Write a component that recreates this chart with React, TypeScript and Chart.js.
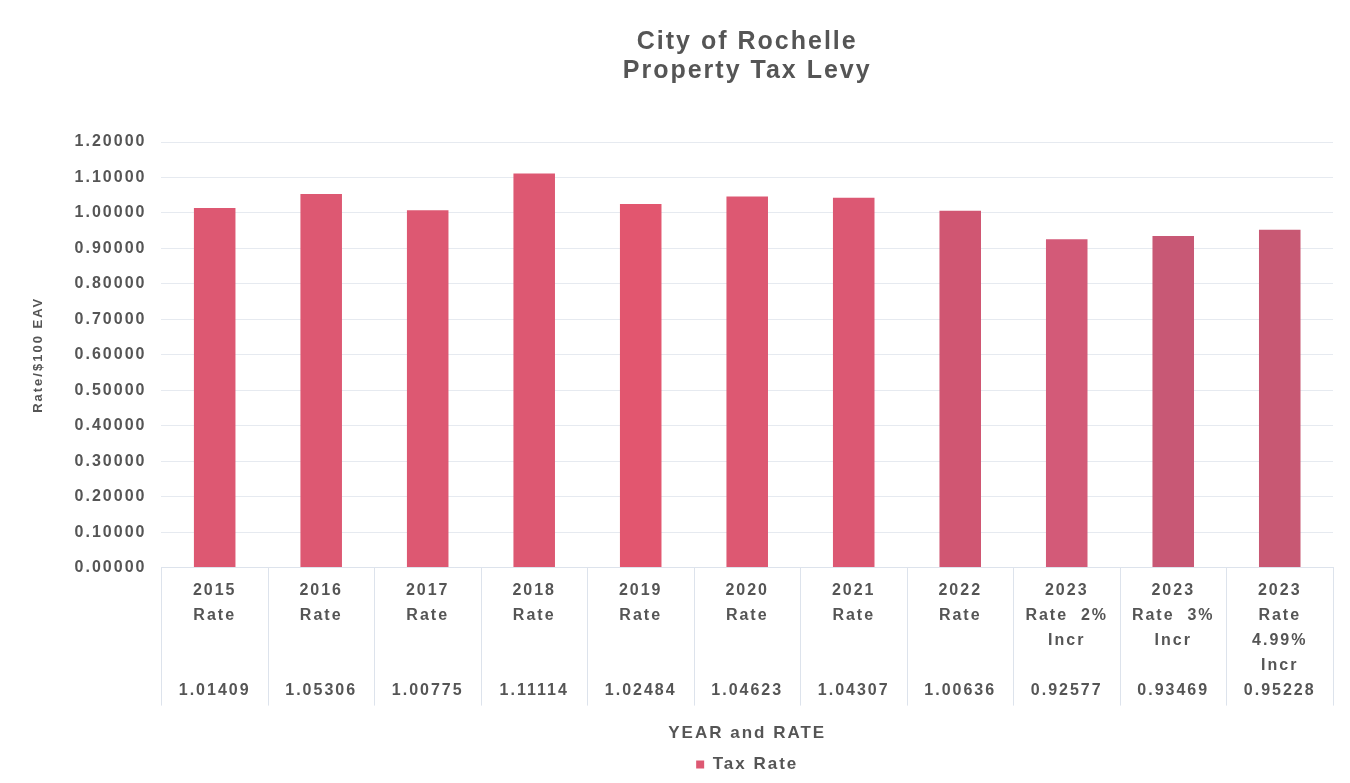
import React, { useEffect, useRef } from "react";
import { Chart, registerables } from "chart.js";

Chart.register(...registerables);

const years = ["2015", "2016", "2017", "2018", "2019", "2020", "2021", "2022", "2023", "2023", "2023"];
const rateLines = [
  ["Rate", ""],
  ["Rate", ""],
  ["Rate", ""],
  ["Rate", ""],
  ["Rate", ""],
  ["Rate", ""],
  ["Rate", ""],
  ["Rate", ""],
  ["Rate  2%", "Incr"],
  ["Rate  3%", "Incr"],
  ["Rate", "4.99%", "Incr"],
];
const taxRates = [1.01409, 1.05306, 1.00775, 1.11114, 1.02484, 1.04623, 1.04307, 1.00636, 0.92577, 0.93469, 0.95228];
const barColors = [
  "#DD5872", "#DD5872", "#DD5872", "#DD5872", "#E2566F", "#DD5872",
  "#DC5873", "#D05672", "#D35A78", "#C85875", "#C85873",
];
const yTicks = [0, 0.1, 0.2, 0.3, 0.4, 0.5, 0.6, 0.7, 0.8, 0.9, 1.0, 1.1, 1.2];

const spacingPlugin = {
  id: "spacing",
  beforeUpdate(chart: any) {
    chart.ctx.letterSpacing = "2px";
  },
  beforeDraw(chart: any) {
    chart.ctx.letterSpacing = "2px";
  },
};

const tablePlugin = {
  id: "table",
  afterDraw(chart: any) {
    const xs = chart.scales.x;
    const ctx = chart.ctx;
    const n = taxRates.length;
    const w = (xs.right - xs.left) / n;
    ctx.save();
    ctx.strokeStyle = "#dde3ec";
    ctx.lineWidth = 1;
    for (let i = 0; i <= n; i++) {
      const x = Math.round(xs.left + i * w) + 0.5;
      ctx.beginPath();
      ctx.moveTo(x, xs.top);
      ctx.lineTo(x, xs.top + 138);
      ctx.stroke();
    }
    ctx.restore();
  },
};

export default function App() {
  const ref = useRef<HTMLCanvasElement | null>(null);

  useEffect(() => {
    if (!ref.current) return;
    const labels = years.map((y, i) => {
      const r = rateLines[i];
      const lines = [y, ...r];
      while (lines.length < 4) lines.push("");
      lines.push(taxRates[i].toFixed(5));
      return lines;
    });
    const font = "'Liberation Sans', Arial, sans-serif";
    const chart = new Chart(ref.current, {
      type: "bar",
      plugins: [spacingPlugin, tablePlugin],
      data: {
        labels,
        datasets: [
          {
            label: "Tax Rate",
            data: taxRates,
            backgroundColor: barColors,
            borderWidth: 0,
            barPercentage: 0.39,
            categoryPercentage: 1.0,
          },
        ],
      },
      options: {
        animation: false,
        responsive: false,
        maintainAspectRatio: false,
        layout: { padding: { left: 31, right: 17, top: 28, bottom: 0 } },
        plugins: {
          title: {
            display: true,
            fullSize: false,
            text: ["City of Rochelle", "Property Tax Levy"],
            color: "#555555",
            font: { family: font, size: 25, weight: "bold", lineHeight: 1.16 },
            padding: { top: 0, bottom: 56 },
          },
          legend: {
            position: "bottom",
            fullSize: false,
            labels: {
              color: "#555555",
              font: { family: font, size: 17, weight: "bold" },
              boxWidth: 8,
              boxHeight: 8,
              padding: 4,
            },
          },
          tooltip: { enabled: false },
        },
        scales: {
          x: {
            grid: { display: false },
            border: { display: true, color: "#dde3ec" },
            ticks: {
              color: "#555555",
              font: { family: font, size: 16, weight: "bold", lineHeight: 1.5625 },
              padding: 2,
              maxRotation: 0,
              autoSkip: false,
            },
            title: {
              display: true,
              text: "YEAR and RATE",
              color: "#555555",
              font: { family: font, size: 17, weight: "bold" },
              padding: { top: 19, bottom: 8 },
            },
          },
          y: {
            min: 0,
            max: 1.2,
            afterBuildTicks: (scale: any) => {
              scale.ticks = yTicks.map((v) => ({ value: v }));
            },
            ticks: {
              color: "#555555",
              font: { family: font, size: 16, weight: "bold" },
              padding: 15,
              callback: (v: any) => Number(v).toFixed(5),
            },
            grid: { color: "#e6eaf0", drawTicks: false },
            border: { display: false },
            title: {
              display: true,
              text: "Rate/$100 EAV",
              color: "#555555",
              font: { family: font, size: 13, weight: "bold" },
              padding: { top: 0, bottom: 13 },
            },
          },
        },
      },
    });
    return () => chart.destroy();
  }, []);

  return (
    <div style={{ position: "fixed", left: 0, top: 0, width: 1350, height: 783, background: "#fff" }}>
      <canvas ref={ref} width={1350} height={783} />
    </div>
  );
}
